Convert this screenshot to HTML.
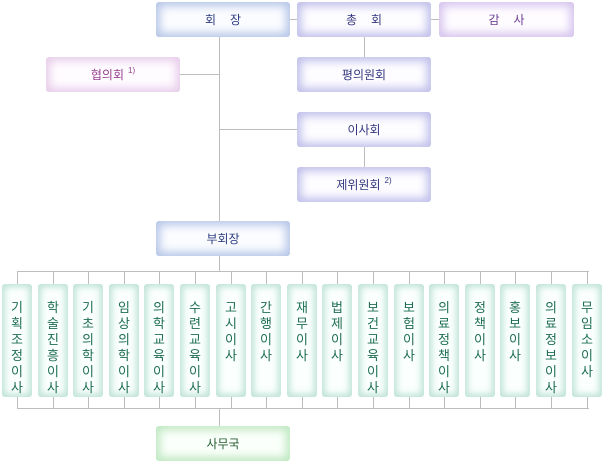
<!DOCTYPE html>
<html><head><meta charset="utf-8"><style>
body{margin:0;width:604px;height:463px;background:#fff;position:relative;overflow:hidden;font-family:"Liberation Sans","Noto Sans CJK KR",sans-serif}
.b{position:absolute;border-radius:3px;display:flex;align-items:center;justify-content:center;font-size:12px;box-sizing:border-box}
.bl{background:#fbfcff;box-shadow:inset 0 0 9px 4px #b6c6e8;color:#2c3c80}
.pu{background:#fdfcff;box-shadow:inset 0 0 9px 4px #c0bfea;color:#33367f}
.vi{background:#fefcff;box-shadow:inset 0 0 9px 4px #d5c3ee;color:#6e3e96}
.pk{background:#fffcff;box-shadow:inset 0 0 9px 4px #e8cdea;color:#963e8e}
.gr{background:#fbfffb;box-shadow:inset 0 0 9px 4px #bfe9c1;color:#245e30}
.v{position:absolute;top:284px;width:30px;height:113px;border-radius:3px;background:#fbfffd;box-shadow:inset 0 0 7px 3px #bfe3d8;color:#1d6e52;font-size:13px;line-height:16px;text-align:center;padding-top:16px;box-sizing:border-box;word-break:break-all}
.l{position:absolute;background:#bdbdbd}
sup{font-size:8px;margin-left:4px;position:relative;top:-4px;vertical-align:baseline}
</style></head><body>
<div class="l" style="left:219px;top:37px;width:1px;height:234px"></div>
<div class="l" style="left:180px;top:74px;width:39px;height:1px"></div>
<div class="l" style="left:219px;top:129px;width:78px;height:1px"></div>
<div class="l" style="left:290px;top:19px;width:7px;height:1px"></div>
<div class="l" style="left:431px;top:19px;width:8px;height:1px"></div>
<div class="l" style="left:364px;top:37px;width:1px;height:20px"></div>
<div class="l" style="left:364px;top:147px;width:1px;height:20px"></div>
<div class="l" style="left:17px;top:271px;width:572px;height:1px"></div>
<div class="l" style="left:17px;top:408px;width:572px;height:1px"></div>
<div class="l" style="left:219px;top:408px;width:1px;height:18px"></div>
<div id="ticks"></div>
<div class="b bl" style="left:156px;top:2px;width:134px;height:35px;letter-spacing:14px;padding-left:14px">회장</div>
<div class="b pu" style="left:297px;top:2px;width:134px;height:35px;letter-spacing:14px;padding-left:14px">총회</div>
<div class="b vi" style="left:439px;top:2px;width:135px;height:35px;letter-spacing:14px;padding-left:14px">감사</div>
<div class="b pk" style="left:46px;top:57px;width:134px;height:35px">협의회<sup>1)</sup></div>
<div class="b pu" style="left:297px;top:57px;width:134px;height:35px">평의원회</div>
<div class="b pu" style="left:297px;top:112px;width:134px;height:35px">이사회</div>
<div class="b pu" style="left:297px;top:167px;width:134px;height:35px">제위원회<sup>2)</sup></div>
<div class="b bl" style="left:156px;top:221px;width:134px;height:35px">부회장</div>
<div class="b gr" style="left:156px;top:426px;width:134px;height:35px">사무국</div>
<script>
var n=["기획조정이사","학술진흥이사","기초의학이사","임상의학이사","의학교육이사","수련교육이사","고시이사","간행이사","재무이사","법제이사","보건교육이사","보험이사","의료정책이사","정책이사","홍보이사","의료정보이사","무임소이사"];
var h="";
for(var i=0;i<17;i++){var x=Math.round(2+i*35.6);
h+='<div class="l" style="left:'+(x+15)+'px;top:271px;width:1px;height:13px"></div><div class="l" style="left:'+(x+15)+'px;top:397px;width:1px;height:11px"></div>';
h+='<div class="v" style="left:'+x+'px">'+n[i].split("").join("<br>")+'</div>';}
document.getElementById("ticks").innerHTML=h;
</script>
</body></html>
